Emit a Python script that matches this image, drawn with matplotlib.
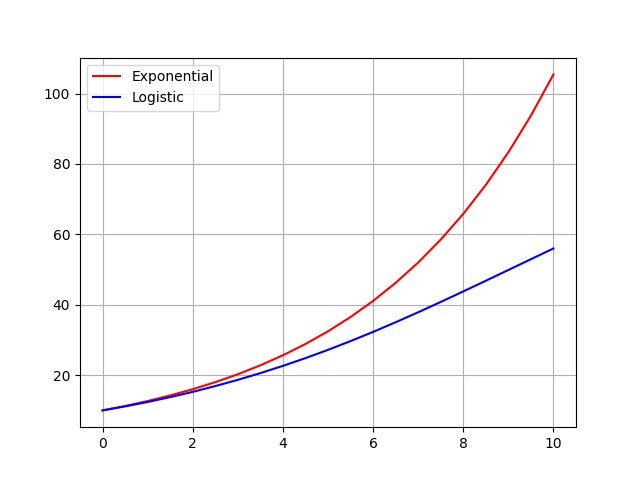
import matplotlib
matplotlib.use("Agg")
import matplotlib.pyplot as plt

t = [0, 0.5, 1, 1.5, 2, 2.5, 3, 3.5, 4, 4.5, 5, 5.5, 6, 6.5, 7, 7.5, 8, 8.5, 9, 9.5, 10]
exponential = [10, 11.25, 12.66, 14.24, 16.02, 18.02, 20.27, 22.81, 25.66, 28.86, 32.47,
               36.53, 41.10, 46.23, 52.01, 58.52, 65.83, 74.06, 83.32, 93.73, 105.45]
logistic = [10, 11.14, 12.39, 13.77, 15.27, 16.91, 18.68, 20.59, 22.65, 24.85, 27.20,
            29.69, 32.30, 35.04, 37.88, 40.81, 43.80, 46.83, 49.89, 52.95, 56.0]

fig, ax = plt.subplots(figsize=(6.4, 4.8), dpi=100)
ax.plot(t, exponential, color="red", label="Exponential")
ax.plot(t, logistic, color="blue", label="Logistic")
ax.grid(True)
ax.legend(loc="upper left")
fig.savefig("out.png")
